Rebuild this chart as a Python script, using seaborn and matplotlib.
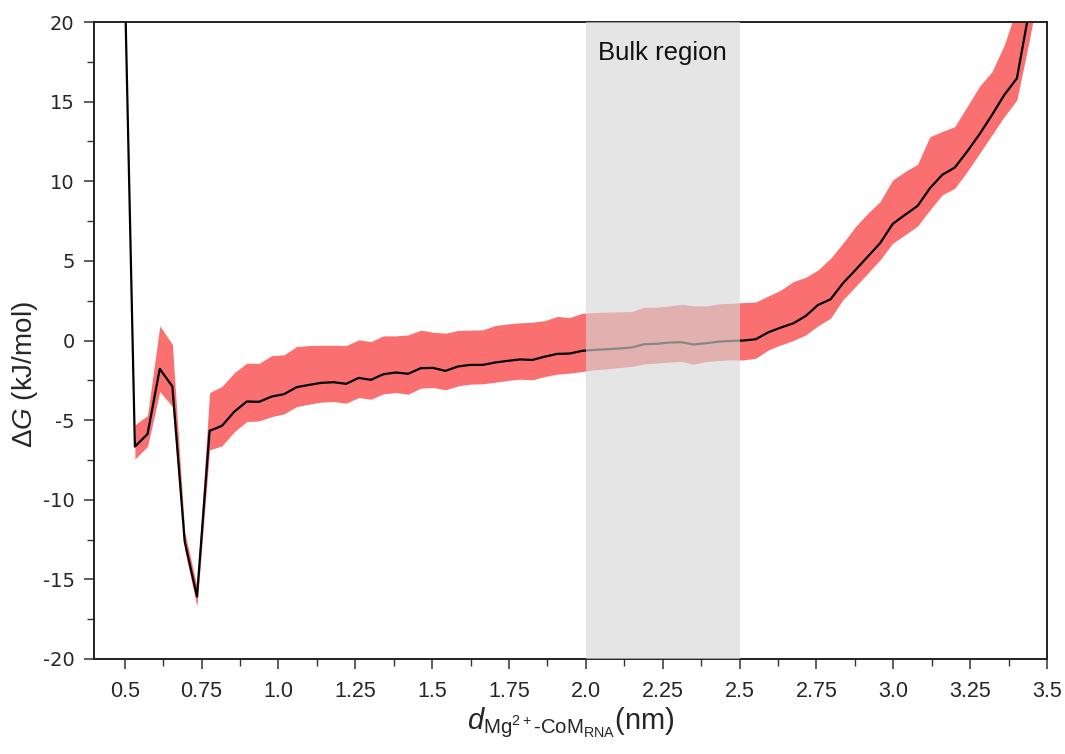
import numpy as np
import pandas as pd
import matplotlib
matplotlib.use("Agg")
import matplotlib.pyplot as plt
import seaborn as sns
from matplotlib.ticker import FixedLocator, MultipleLocator

# ---------------- data ----------------
distance = [0.493, 0.533, 0.574, 0.614, 0.655, 0.695, 0.735, 0.776, 0.816, 0.857,
            0.897, 0.937, 0.978, 1.018, 1.059, 1.099, 1.139, 1.180, 1.220, 1.261,
            1.301, 1.341, 1.382, 1.422, 1.463, 1.503, 1.543, 1.584, 1.624, 1.665,
            1.705, 1.745, 1.786, 1.826, 1.867, 1.907, 1.947, 1.988, 2.028, 2.069,
            2.109, 2.149, 2.190, 2.230, 2.271, 2.311, 2.351, 2.392, 2.432, 2.473,
            2.513, 2.553, 2.594, 2.634, 2.675, 2.715, 2.755, 2.796, 2.836, 2.877,
            2.917, 2.957, 2.998, 3.038, 3.079, 3.119, 3.159, 3.200, 3.240, 3.281,
            3.321, 3.361, 3.402, 3.442, 3.483]

dG_mean = [29.0, -6.66, -5.88, -1.78, -2.89, -12.62, -16.08, -5.67, -5.36, -4.46,
           -3.83, -3.85, -3.52, -3.37, -2.93, -2.79, -2.66, -2.62, -2.72, -2.35,
           -2.47, -2.12, -2.01, -2.09, -1.74, -1.72, -1.91, -1.63, -1.53, -1.53,
           -1.38, -1.28, -1.19, -1.22, -1.01, -0.84, -0.82, -0.65, -0.59, -0.55,
           -0.50, -0.44, -0.23, -0.21, -0.13, -0.11, -0.25, -0.17, -0.07, -0.03,
           0.00, 0.08, 0.52, 0.81, 1.08, 1.54, 2.23, 2.59, 3.59, 4.43,
           5.27, 6.11, 7.32, 7.89, 8.45, 9.56, 10.40, 10.86, 11.86, 12.97,
           14.16, 15.42, 16.46, 20.7, 25.0]

dG_upper = [np.nan, -5.30, -4.71, 0.92, -0.24, -12.0, -15.45, -3.27, -2.89, -2.01,
            -1.43, -1.43, -0.95, -0.90, -0.38, -0.32, -0.30, -0.30, -0.32, 0.04,
            -0.07, 0.29, 0.29, 0.35, 0.65, 0.52, 0.46, 0.63, 0.65, 0.67,
            0.94, 1.04, 1.11, 1.15, 1.25, 1.51, 1.44, 1.71, 1.76, 1.78,
            1.80, 1.82, 2.09, 2.09, 2.17, 2.28, 2.17, 2.17, 2.30, 2.34,
            2.38, 2.42, 2.80, 3.17, 3.70, 3.97, 4.43, 5.16, 6.11, 7.15,
            7.99, 8.72, 10.08, 10.60, 11.07, 12.80, 13.12, 13.43, 14.69, 15.98,
            16.88, 18.56, 20.9, 23.0, 27.0]

dG_lower = [np.nan, -7.45, -6.66, -3.21, -4.15, -13.15, -16.7, -6.87, -6.62, -5.72,
            -5.09, -5.05, -4.78, -4.61, -4.15, -4.00, -3.87, -3.83, -3.94, -3.58,
            -3.69, -3.35, -3.27, -3.37, -2.99, -2.95, -3.10, -2.85, -2.74, -2.72,
            -2.62, -2.51, -2.43, -2.47, -2.26, -2.11, -2.05, -1.95, -1.84, -1.78,
            -1.70, -1.63, -1.47, -1.42, -1.36, -1.32, -1.49, -1.32, -1.26, -1.22,
            -1.22, -1.11, -0.59, -0.28, 0.00, 0.35, 0.92, 1.40, 2.55, 3.39,
            4.22, 5.06, 6.11, 6.63, 7.19, 8.20, 9.14, 9.56, 10.60, 11.76,
            12.91, 14.06, 15.10, 18.8, 23.0]

bulk_region = [2.0, 2.5]
bulk_label = "Bulk region"

xtick_values = [0.5, 0.75, 1.0, 1.25, 1.5, 1.75, 2.0, 2.25, 2.5, 2.75, 3.0, 3.25, 3.5]
xtick_labels = ["0.5", "0.75", "1.0", "1.25", "1.5", "1.75", "2.0", "2.25", "2.5",
                "2.75", "3.0", "3.25", "3.5"]
ytick_values = [-20, -15, -10, -5, 0, 5, 10, 15, 20]
ytick_labels = ["-20", "-15", "-10", "-5", "0", "5", "10", "15", "20"]

df = pd.DataFrame({"d": distance, "dG": dG_mean, "up": dG_upper, "lo": dG_lower})

# ---------------- style ----------------
sns.set_theme(style="ticks")
plt.rcParams["font.family"] = ["Liberation Sans", "DejaVu Sans"]
plt.rcParams["axes.unicode_minus"] = False
plt.rcParams["mathtext.fontset"] = "custom"
plt.rcParams["mathtext.rm"] = "Liberation Sans"
plt.rcParams["mathtext.it"] = "Liberation Sans:italic"

fig = plt.figure(figsize=(10.65, 7.54), dpi=100)
ax = fig.add_axes([94 / 1065, 1 - 659 / 754, (1047 - 94) / 1065, (659 - 22) / 754])

red = "#FA7070"
ax.fill_between(df["d"], df["lo"], df["up"], color=red, linewidth=0, zorder=1)
sns.lineplot(data=df, x="d", y="dG", color="black", linewidth=1.6, ax=ax, zorder=2,
             estimator=None, sort=False)
ax.axvspan(bulk_region[0], bulk_region[1], color=(215 / 255, 215 / 255, 215 / 255),
           alpha=0.63, linewidth=0, zorder=3)
ax.text(sum(bulk_region) / 2, 18.05, bulk_label, ha="center", va="center",
        fontsize=18.5, color="#111111", zorder=4)

ax.set_xlim(0.4, 3.5)
ax.set_ylim(-20, 20)

ax.xaxis.set_major_locator(FixedLocator(xtick_values))
ax.set_xticklabels(xtick_labels)
ax.xaxis.set_minor_locator(FixedLocator([v + 0.125 for v in xtick_values[:-1]]))
ax.yaxis.set_major_locator(FixedLocator(ytick_values))
ax.set_yticklabels(ytick_labels)
ax.yaxis.set_minor_locator(MultipleLocator(2.5))

ax.tick_params(axis="both", which="major", direction="out", length=7, width=1.1,
               color="#333333")
ax.tick_params(axis="both", which="minor", direction="out", length=5, width=1.0,
               color="#333333")
ax.tick_params(axis="x", which="major", pad=9, labelsize=15.5)
ax.tick_params(axis="y", which="major", pad=7, labelsize=14)
for lab in ax.get_yticklabels():
    lab.set_family(["DejaVu Sans"])

for s in ax.spines.values():
    s.set_visible(True)
    s.set_linewidth(1.4)
    s.set_color("#222222")

ax.set_xlabel(r"$d_{\mathrm{Mg^{2+}\text{-}CoM_{RNA}}}$(nm)", fontsize=21, labelpad=2)
ax.set_ylabel(r"$\Delta G$ (kJ/mol)", fontsize=20)
ax.yaxis.set_label_coords(-0.057, 0.446)

fig.savefig("out.png", dpi=100)
